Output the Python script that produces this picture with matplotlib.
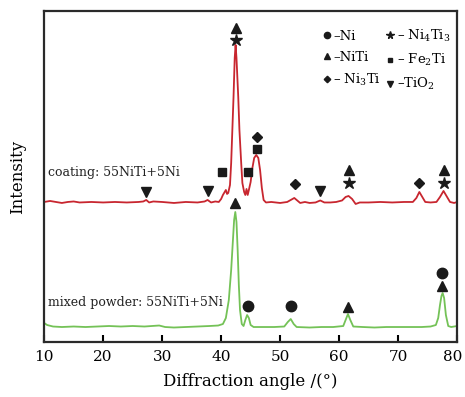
import matplotlib
matplotlib.use("Agg")
import matplotlib.pyplot as plt
from matplotlib.lines import Line2D
from matplotlib.transforms import ScaledTranslation

plt.rcParams['font.family'] = 'DejaVu Serif'
plt.rcParams['mathtext.fontset'] = 'dejavuserif'

# coating curve (2theta, intensity a.u.)
coat_x = [10.0, 11, 12, 13, 14, 15, 16, 18, 20, 22, 24, 26, 26.8, 27.3, 27.8, 28.5,
          30, 32, 34, 36, 37.2, 37.7, 38.3, 39.0, 39.6, 40.0, 40.3, 40.6, 40.8, 41.0,
          41.2, 41.5, 41.7, 41.9, 42.1, 42.3, 42.45, 42.6, 42.9, 43.1, 43.4, 43.6, 43.9,
          44.1, 44.3, 44.5, 44.7, 45.0, 45.3, 45.6, 45.95, 46.3, 46.6, 46.9, 47.2, 47.6,
          48.5, 50, 51.2, 51.8, 52.4, 53.0, 53.4, 54.2, 55, 56, 56.8, 57.5, 58.5, 59.5,
          60.5, 61.1, 61.6, 62.2, 62.8, 63.5, 65, 67, 69, 71, 72.5, 73.1, 73.6, 74.1,
          74.6, 75.5, 76.5, 77.1, 77.7, 78.3, 78.8, 79.5, 80]
coat_y = [140, 141, 140, 139, 140, 140.5, 139.5, 140, 139.5, 140, 139.5, 140, 140.5, 142,
          139.5, 140.5, 140, 139, 140, 139.5, 140.5, 142, 139.5, 140.5, 140, 143, 147,
          150, 152, 148, 149, 157, 179, 212, 245, 284, 297, 284, 245, 212, 179, 159, 150,
          147, 153, 147, 152, 160, 174, 184, 187, 184, 172, 154, 142, 139.5, 140, 139,
          140, 142, 144, 141, 139, 140, 139, 139.5, 141.5, 139.5, 139.5, 140, 141.5, 145,
          146, 143, 138, 139.5, 139.5, 140, 139.5, 140, 140, 144, 150, 145, 140, 139.5,
          140, 145, 151, 145, 140, 139, 140]

# mixed powder curve
powder_x = [10.0, 10.5, 11.5, 13, 15, 17, 19, 21, 23, 25, 27, 29.5, 30.5, 32, 34, 36, 38,
            39.5, 40.3, 40.8, 41.3, 41.7, 42.0, 42.2, 42.4, 42.6, 42.8, 43.0, 43.2, 43.5,
            43.8, 44.1, 44.4, 44.7, 45.0, 45.5, 47, 49, 50.7, 51.3, 51.8, 52.3, 52.8, 55,
            57, 59, 60.7, 61.1, 61.5, 61.9, 62.4, 64, 66, 68, 70, 72, 74, 75.5, 76.4, 76.8,
            77.1, 77.35, 77.55, 77.8, 78.1, 78.5, 79, 80]
powder_y = [19, 17, 15.5, 15, 15.5, 15, 15.5, 16, 15.5, 16, 15.5, 16.5, 15, 14.5, 15, 15.5,
            16, 16.5, 18, 24, 42, 72, 102, 122, 130, 120, 92, 57, 32, 18, 16, 22, 27, 24,
            17, 15, 15, 15, 15.5, 20, 23, 18, 15, 14.5, 15, 15, 16, 22, 28, 22, 15.5, 15,
            14.5, 15, 15, 15, 15, 15.5, 17, 24, 37, 46, 49, 44, 27, 16, 15, 16]

# phase markers: (phase, 2theta, height)
coat_marks = [('NiTi', 42.45, 314), ('Ni4Ti3', 42.45, 302), ('Fe2Ti', 40.2, 170),
              ('Fe2Ti', 44.5, 170), ('Ni3Ti', 46.0, 205), ('Fe2Ti', 46.0, 193),
              ('TiO2', 27.3, 150), ('TiO2', 37.7, 151), ('Ni3Ti', 52.5, 158),
              ('TiO2', 56.8, 151), ('NiTi', 61.6, 172), ('Ni4Ti3', 61.6, 159),
              ('Ni3Ti', 73.6, 159), ('NiTi', 77.7, 172), ('Ni4Ti3', 77.7, 159)]
powder_marks = [('NiTi', 42.4, 139), ('Ni', 44.5, 36), ('Ni', 51.8, 36),
                ('NiTi', 61.5, 35), ('Ni', 77.5, 69), ('NiTi', 77.5, 56)]

phases = ['Ni', 'NiTi', 'Ni3Ti', 'Ni4Ti3', 'Fe2Ti', 'TiO2']
phase_labels = ['–Ni', '–NiTi', '– Ni$_3$Ti', '– Ni$_4$Ti$_3$', '– Fe$_2$Ti', '–TiO$_2$']
styles = {'Ni': ('o', 7.5), 'NiTi': ('^', 7), 'Ni3Ti': ('D', 5.5),
          'Ni4Ti3': ('*', 9), 'Fe2Ti': ('s', 5.5), 'TiO2': ('v', 7)}

red = '#c8262f'
green = '#74c257'

fig = plt.figure(figsize=(4.65, 3.97), dpi=100)
ax = fig.add_axes([0.095, 0.1385, 0.888, 0.834])

ax.plot(coat_x, coat_y, color=red, lw=1.3)
ax.plot(powder_x, powder_y, color=green, lw=1.3)

for name, x, y in coat_marks + powder_marks:
    m, s = styles[name]
    ax.plot(x, y, marker=m, ms=s, color='#1a1a1a', ls='none')

ax.text(10.6, 169, 'coating: 55NiTi+5Ni', fontsize=9, va='center', color='#222')
ax.text(10.6, 40, 'mixed powder: 55NiTi+5Ni', fontsize=9, va='center', color='#222')

handles = [Line2D([], [], marker=styles[p][0], ms=styles[p][1] * 0.6, color='#1a1a1a',
                  ls='none') for p in phases]
ax.legend(handles, phase_labels, ncol=2, frameon=False, loc='upper right',
          bbox_to_anchor=(1.0, 0.968), fontsize=9.5, handletextpad=0.1,
          columnspacing=0.3, labelspacing=0.6, handlelength=0.8, borderpad=0)

ax.set_xlim(10, 80)
ax.set_ylim(0, 331)
ax.set_xticks(range(10, 81, 10))
ax.set_yticks([])
ax.tick_params(axis='x', direction='in', length=5, width=1.5, labelsize=11, pad=6,
               top=False)
for sp in ax.spines.values():
    sp.set_linewidth(1.6)
    sp.set_color('#2a2a2a')
ax.set_xlabel('Diffraction angle /(°)', fontsize=12, labelpad=6)
ax.set_ylabel('Intensity', fontsize=12, labelpad=13)

# keep the last tick label inside the picture
last = ax.get_xticklabels()[-1]
last.set_transform(last.get_transform() + ScaledTranslation(-0.045, 0, fig.dpi_scale_trans))

fig.savefig('out.png', dpi=100)
